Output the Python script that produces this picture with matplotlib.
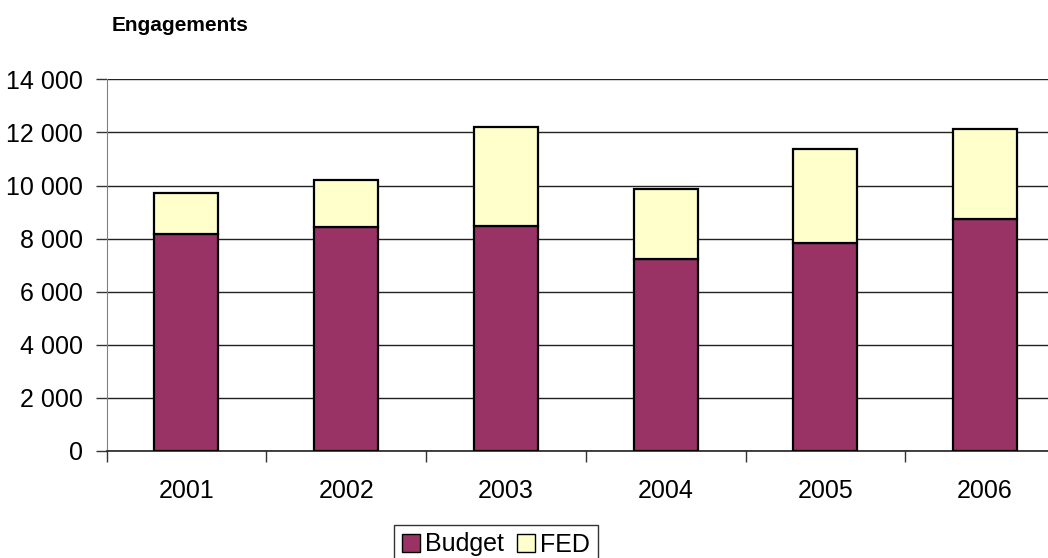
import matplotlib
matplotlib.use("Agg")
import matplotlib.pyplot as plt
from matplotlib.patches import Patch
from matplotlib.ticker import FuncFormatter
import numpy as np

plt.rcParams['font.family'] = ['Liberation Sans', 'DejaVu Sans']

# ------------------------------
# DATA
# ------------------------------
years = ["2001", "2002", "2003", "2004", "2005", "2006"]
budget = [8160, 8440, 8460, 7240, 7850, 8730]
fed = [1570, 1770, 3750, 2640, 3510, 3410]

budget_color = "#993366"
fed_color = "#FFFFCC"

# ------------------------------
# PLOT
# ------------------------------
fig = plt.figure(figsize=(10.48, 5.58), dpi=100)
# plot area runs a bit past the right edge, like the original crop
ax = fig.add_axes([106.5 / 1048, 107 / 558, 958.5 / 1048, 371.7 / 558])

x = np.arange(len(years))
ax.bar(x, budget, width=0.4, color=budget_color, edgecolor="black", linewidth=1.6, zorder=3)
ax.bar(x, fed, width=0.4, bottom=budget, color=fed_color, edgecolor="black", linewidth=1.6, zorder=3)

ax.set_xlim(-0.5, len(years) - 0.5)
ax.set_ylim(0, 14000)
ax.set_yticks(np.arange(0, 14001, 2000))
ax.yaxis.set_major_formatter(FuncFormatter(lambda v, p: f"{int(v):,}".replace(",", " ")))
ax.yaxis.grid(True, color="#222222", linewidth=1)
ax.set_axisbelow(True)

# category boundaries get the tick marks, labels sit between them
ax.set_xticks(np.arange(-0.5, len(years), 1.0))
ax.set_xticklabels([])
ax.set_xticks(x, years, minor=True)
ax.tick_params(axis="x", which="major", direction="out", length=8, width=1, color="#333333")
ax.tick_params(axis="x", which="minor", length=0, pad=20, labelsize=18)
ax.tick_params(axis="y", direction="out", length=8, width=1, color="#333333", pad=9, labelsize=18)

for side in ["top", "right"]:
    ax.spines[side].set_visible(False)
ax.spines["left"].set_color("#808080")
ax.spines["bottom"].set_color("#222222")
ax.spines["bottom"].set_linewidth(1.2)

fig.text(112 / 1048, 1 - 31 / 558, "Engagements", fontsize=15, fontweight="bold", va="baseline")

handles = [Patch(facecolor=budget_color, edgecolor="black", label="Budget"),
           Patch(facecolor=fed_color, edgecolor="black", label="FED")]
leg = fig.legend(handles=handles, loc="upper center", bbox_to_anchor=(496 / 1048, 1 - 525 / 558),
                 ncol=2, fontsize=18, frameon=True, fancybox=False, handlelength=0.72,
                 handleheight=0.72, handletextpad=0.22, columnspacing=0.5, borderpad=0.3,
                 borderaxespad=0)
leg.get_frame().set_edgecolor("black")
leg.get_frame().set_linewidth(1)

fig.savefig("out.png", dpi=100)
